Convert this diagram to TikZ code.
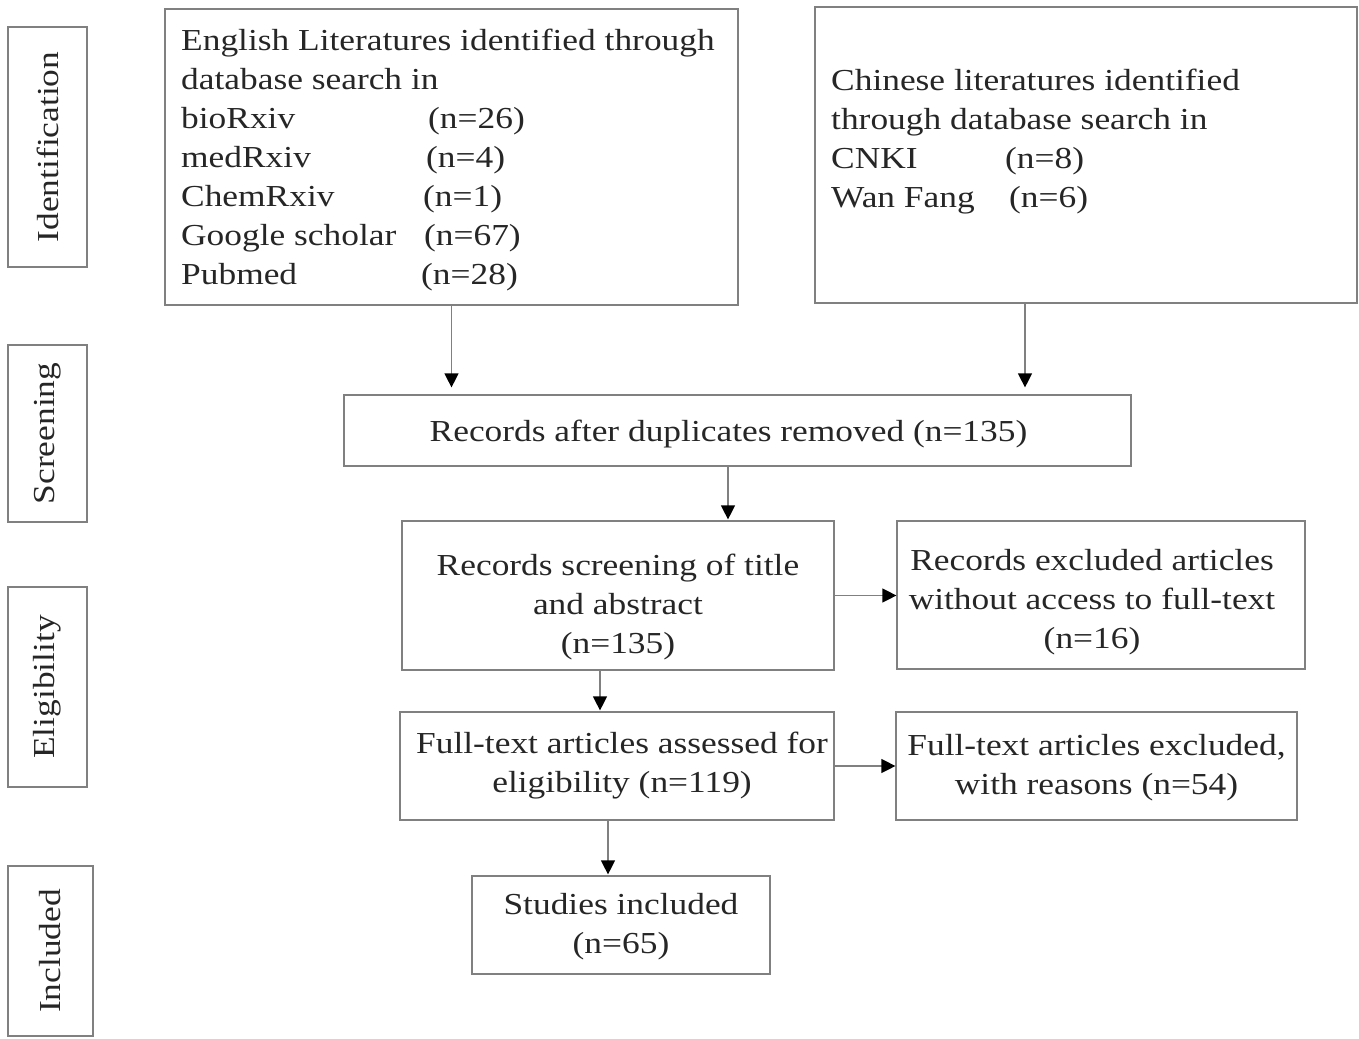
\documentclass[tikz,border=0pt]{standalone}
\usepackage{fontspec}
\setmainfont{Liberation Serif}[FakeStretch=1.16]
\usetikzlibrary{arrows.meta,positioning}

\tikzset{
  stagebox/.style={rectangle,
      draw = black!50,
      line width = 1.2pt,
      text = black!85,
      rotate = 90,
      inner sep = 0pt,
      font = \fontsize{30.5}{39}\selectfont},
  flowbox/.style={rectangle,
      draw = black!50,
      line width = 1.2pt,
      text = black!85,
      align = center,
      inner sep = 0pt,
      font = \fontsize{30.5}{39}\selectfont},
  listtext/.style={
      text = black!85,
      align = left,
      inner sep = 0pt,
      anchor = north west,
      font = \fontsize{30.5}{39}\selectfont},
  flowarrow/.style={draw = black!50,
      line width = 1.2pt,
      -{Triangle[black, length=14pt, width=14pt]}}
}

\begin{document}
\begin{tikzpicture}[x=1pt,y=-1pt]
\useasboundingbox (0,0) rectangle (1359,1038);

% stage labels
\node[stagebox, minimum width = 240pt, minimum height = 79pt] (ident) at (47.5,147) {Identification};
\node[stagebox, minimum width = 177pt, minimum height = 79pt] (screenlab) at (47.5,433.5) {Screening};
\node[stagebox, minimum width = 200pt, minimum height = 79pt] (eliglab) at (47.5,687) {Eligibility};
\node[stagebox, minimum width = 170pt, minimum height = 85pt] (inclab) at (50.5,951) {Included};

% identification
\node[flowbox, minimum width = 573pt, minimum height = 296pt] (english) at (451.5,157) {};
\node[listtext] (englishtxt) at (181,29) {English Literatures identified through\\
  database search in\\
  \makebox[247pt][l]{bioRxiv}(n=26)\\
  \makebox[245pt][l]{medRxiv}(n=4)\\
  \makebox[242pt][l]{ChemRxiv}(n=1)\\
  \makebox[243pt][l]{Google scholar}(n=67)\\
  \makebox[240pt][l]{Pubmed}(n=28)};

\node[flowbox, minimum width = 542pt, minimum height = 296pt] (chinese) at (1086,155) {};
\node[listtext] (chinesetxt) at (831,69) {Chinese literatures identified\\
  through database search in\\
  \makebox[174pt][l]{CNKI}(n=8)\\
  \makebox[178pt][l]{Wan Fang}(n=6)};

% screening
\node[flowbox, minimum width = 787pt, minimum height = 71pt] (dupl) at (737.5,430.5) {\rule{0pt}{29pt}Records after duplicates removed (n=135)\kern18pt};

% eligibility
\node[flowbox, minimum width = 432pt, minimum height = 149pt] (screen) at (618,595.5) {\rule{0pt}{45pt}Records screening of title\\ and abstract\\ (n=135)};
\node[flowbox, minimum width = 408pt, minimum height = 148pt] (excl) at (1101,595) {\rule{0pt}{35pt}Records excluded articles\kern18pt\\ without access to full-text\kern18pt\\ (n=16)\kern18pt};
\node[flowbox, minimum width = 434pt, minimum height = 108pt] (fulltext) at (617,766) {Full-text articles assessed for\kern-10pt\\ eligibility (n=119)\kern-10pt};
\node[flowbox, minimum width = 401pt, minimum height = 108pt] (ftexcl) at (1096.5,766) {\rule{0pt}{25pt}Full-text articles excluded,\\ with reasons (n=54)};

% included
\node[flowbox, minimum width = 298pt, minimum height = 98pt] (studies) at (621,925) {\rule{0pt}{25pt}Studies included\\ (n=65)};

% arrows
\draw[flowarrow, shorten >= 7pt] (english.south) -- (english.south |- dupl.north);
\draw[flowarrow, shorten >= 7pt] ([xshift=-61pt]chinese.south) -- ([xshift=-61pt]chinese.south |- dupl.north);
\draw[flowarrow, shorten >= 1pt] ([xshift=-9.5pt]dupl.south) -- ([xshift=-9.5pt]dupl.south |- screen.north);
\draw[flowarrow] (screen.east) -- (screen.east -| excl.west);
\draw[flowarrow, shorten >= 1pt] ([xshift=-18pt]screen.south) -- ([xshift=-18pt]screen.south |- fulltext.north);
\draw[flowarrow] (fulltext.east) -- (fulltext.east -| ftexcl.west);
\draw[flowarrow, shorten >= 1pt] ([xshift=-9pt]fulltext.south) -- ([xshift=-9pt]fulltext.south |- studies.north);

\end{tikzpicture}
\end{document}
